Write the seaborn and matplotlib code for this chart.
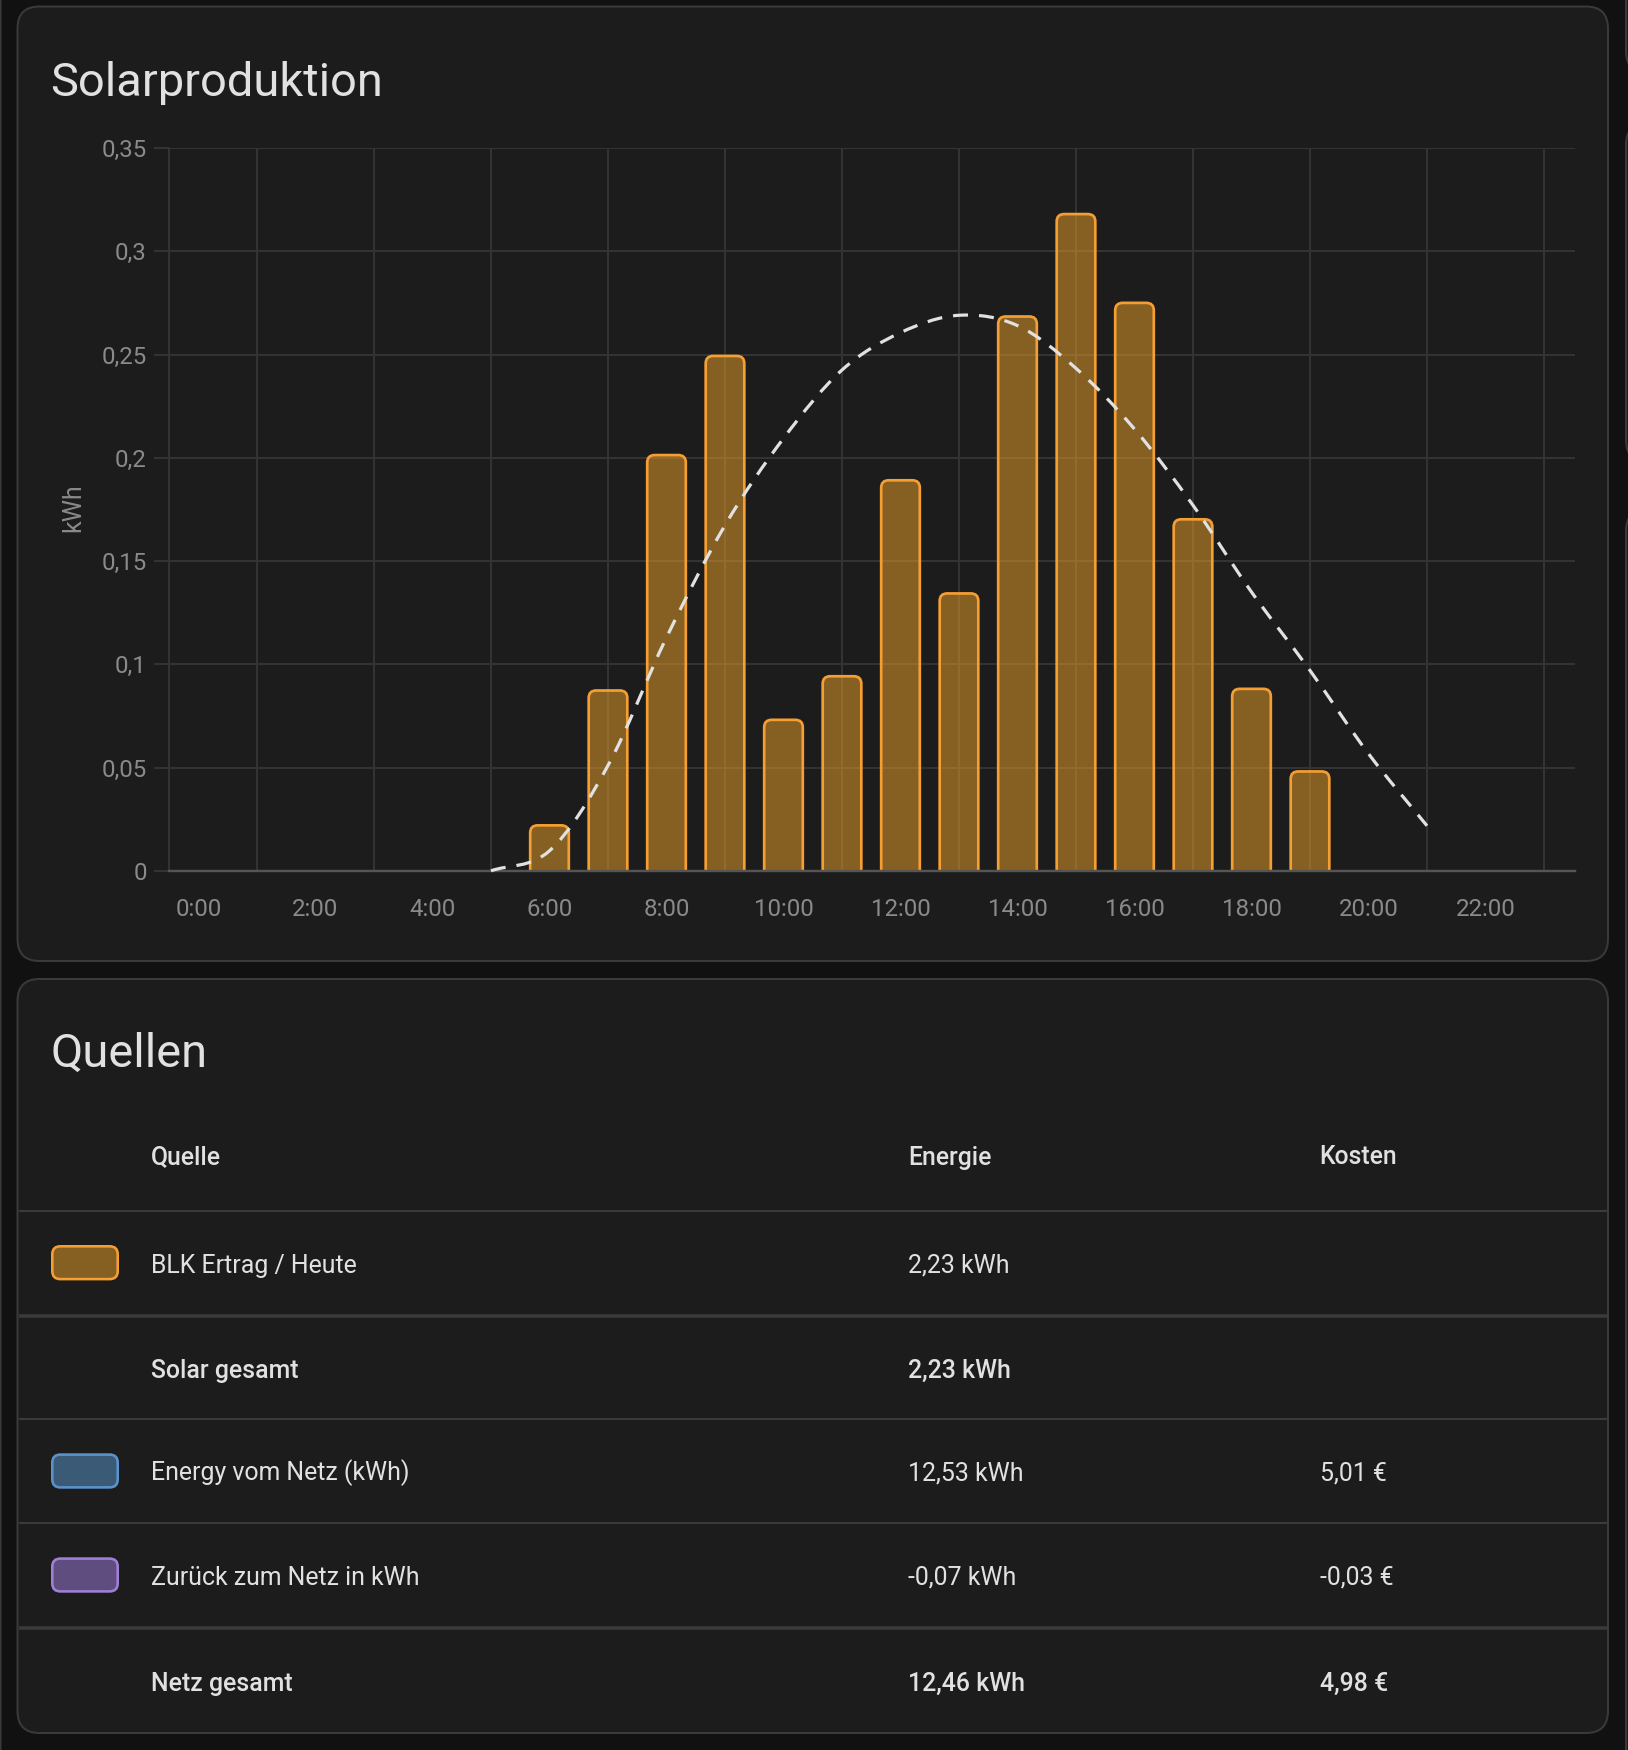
import matplotlib
matplotlib.use("Agg")
import matplotlib.pyplot as plt
from matplotlib.patches import FancyBboxPatch, PathPatch
from matplotlib.path import Path
import seaborn as sns

# chart values
hours = list(range(6, 20))
solar_kwh = [0.022, 0.0873, 0.2013, 0.2493, 0.0731, 0.0942, 0.1891, 0.1343, 0.2684, 0.318, 0.275, 0.1702, 0.0881, 0.0481]
forecast_hours = list(range(5, 22))
forecast_kwh = [0.0, 0.0097, 0.051, 0.113, 0.1673, 0.2094, 0.2425, 0.2606, 0.269, 0.264, 0.2433, 0.2139, 0.177, 0.135, 0.097, 0.0567, 0.0218]
x_tick_hours = list(range(0, 23, 2))
x_tick_labels = [f"{h}:00" for h in x_tick_hours]
grid_hours = list(range(1, 24, 2))
y_ticks = [0, 0.05, 0.1, 0.15, 0.2, 0.25, 0.3, 0.35]
y_tick_labels = ["0", "0,05", "0,1", "0,15", "0,2", "0,25", "0,3", "0,35"]

# table values
table_head = ["Quelle", "Energie", "Kosten"]
row_names = ["BLK Ertrag / Heute", "Solar gesamt", "Energy vom Netz (kWh)", "Zurück zum Netz in kWh", "Netz gesamt"]
row_energy = ["2,23 kWh", "2,23 kWh", "12,53 kWh", "-0,07 kWh", "12,46 kWh"]
row_cost = ["", "", "5,01 €", "-0,03 €", "4,98 €"]
row_bold = [False, True, False, False, True]
row_base = [1272.8, 1378, 1480.5, 1584.6, 1690.5]
swatch_fill = ["#866023", None, "#3b5a75", "#5f4d7f", None]
swatch_edge = ["#f59e33", None, "#5a93cc", "#9e80d6", None]
swatch_top = [1246.3, None, 1454.6, 1558.6, None]

PAGE = "#111111"
CARD = "#1c1c1c"
BORDER = "#3a3a3a"
GRID = "#353535"
TEXT = "#e1e1e1"
MUTED = "#8a8a8a"
W, H = 1628, 1750
PX = 72 / 100  # pixels to points at dpi 100

sns.set_theme(style="dark")
plt.rcParams["font.family"] = ["Roboto", "DejaVu Sans"]
plt.rcParams["lines.scale_dashes"] = False

fig = plt.figure(figsize=(W / 100, H / 100), dpi=100, facecolor=PAGE)

# background layer in pixel coordinates, cards and table live here
bg = fig.add_axes([0, 0, 1, 1], zorder=0)
bg.set_xlim(0, W)
bg.set_ylim(H, 0)
bg.axis("off")


def card(x0, y0, x1, y1, r=22):
    bg.add_patch(FancyBboxPatch((x0, y0), x1 - x0, y1 - y0, boxstyle=f"round,pad=0,rounding_size={r}",
                                fc=CARD, ec=BORDER, lw=2 * PX))


card(17.5, 6.5, 1608, 961)
card(17.5, 979, 1608, 1733)
# neighbouring cards peeking in at the page edges
card(-60, -60, 0.5, 1800, r=4)
card(1626, -60, 1700, 73)
card(1626, 123, 1700, 462)
card(1626, 509, 1700, 1800)

bg.text(50.5, 96, "Solarproduktion", fontsize=47 * PX, color=TEXT, va="baseline")
bg.text(50.5, 1067, "Quellen", fontsize=47 * PX, color=TEXT, va="baseline")
bg.text(73, 508, "kWh", fontsize=25 * PX, color=MUTED, rotation=90, va="center", ha="center")

# table
col_x = [151, 908.5, 1319.5]
for x, label in zip(col_x, table_head):
    bg.text(x, 1164.5, label, fontsize=24.7 * PX, color=TEXT, weight="medium", va="baseline")

for y, lw in [(1211, 2), (1316, 3.5), (1419, 2), (1523, 2), (1628, 3.5)]:
    bg.plot([18.5, 1607], [y, y], color=BORDER, lw=lw * PX, solid_capstyle="butt")

for i, name in enumerate(row_names):
    weight = "medium" if row_bold[i] else "regular"
    bg.text(col_x[0], row_base[i], name, fontsize=24.9 * PX, color=TEXT, weight=weight, va="baseline")
    bg.text(col_x[1], row_base[i], row_energy[i], fontsize=24.9 * PX, color=TEXT, weight=weight, va="baseline")
    bg.text(col_x[2], row_base[i], row_cost[i], fontsize=24.9 * PX, color=TEXT, weight=weight, va="baseline")
    if swatch_top[i] is not None:
        bg.add_patch(FancyBboxPatch((52.3, swatch_top[i]), 65.4, 32.8, boxstyle="round,pad=0,rounding_size=8",
                                    fc=swatch_fill[i], ec=swatch_edge[i], lw=2.6 * PX))

# main chart, right edge runs a little past the last hour slot like the original
left, right, top, bottom = 169.25, 1575, 148, 870.8
x_max = 23.53
ax = fig.add_axes([left / W, 1 - bottom / H, (right - left) / W, (bottom - top) / H], zorder=1)
ax.patch.set_alpha(0)

sns.barplot(x=hours, y=solar_kwh, native_scale=True, width=0.66, color="#f0a42a", ax=ax)

x_px = (right - left) / (x_max + 0.5)
y_px = (bottom - top) / 0.35
for bar in list(ax.patches):
    x, w, h = bar.get_x(), bar.get_width(), bar.get_height()
    bar.remove()
    # rounded top, the bottom corners run below the axis and get clipped
    ax.add_patch(FancyBboxPatch((x, -0.01), w, h + 0.01, boxstyle=f"round,pad=0,rounding_size={7.5 / x_px}",
                                mutation_aspect=x_px / y_px, fc=(0.941, 0.643, 0.165, 0.5),
                                ec="#f59e33", lw=2.7 * PX, zorder=2))

sns.lineplot(x=forecast_hours, y=forecast_kwh, color="#e1e1e1", linewidth=3.2 * PX, ax=ax, zorder=3)
line = ax.get_lines()[-1]
xs, ys = line.get_xdata(), line.get_ydata()
line.remove()

# same points, drawn as a smooth bezier like the original chart does
verts = [(xs[0], ys[0])]
codes = [Path.MOVETO]
for i in range(len(xs) - 1):
    slope0 = (ys[i + 1] - ys[max(i - 1, 0)]) / (xs[i + 1] - xs[max(i - 1, 0)])
    j = min(i + 2, len(xs) - 1)
    slope1 = (ys[j] - ys[i]) / (xs[j] - xs[i])
    dx = (xs[i + 1] - xs[i]) / 3
    verts += [(xs[i] + dx, ys[i] + slope0 * dx), (xs[i + 1] - dx, ys[i + 1] - slope1 * dx), (xs[i + 1], ys[i + 1])]
    codes += [Path.CURVE4, Path.CURVE4, Path.CURVE4]
ax.add_patch(PathPatch(Path(verts, codes), fill=False, ec="#e1e1e1", lw=3.2 * PX, capstyle="butt",
                       ls=(0, (15 * PX, 11 * PX)), clip_on=False, zorder=3))

ax.set_xlim(-0.5, x_max)
ax.set_ylim(0, 0.35)
ax.set_xlabel("")
ax.set_ylabel("")
ax.set_xticks(x_tick_hours, x_tick_labels)
ax.set_xticks(grid_hours, minor=True)
ax.set_yticks(y_ticks, y_tick_labels)
ax.set_axisbelow(True)
ax.grid(False)
ax.grid(True, which="minor", axis="x", color=GRID, lw=1.9 * PX)
ax.grid(True, which="major", axis="y", color=GRID, lw=1.9 * PX)
ax.tick_params(axis="x", which="major", length=0, pad=27.5 * PX, labelsize=24 * PX, labelcolor=MUTED)
ax.tick_params(axis="x", which="minor", length=17 * PX, width=1.9 * PX, color=GRID)
ax.tick_params(axis="y", which="major", left=True, length=15.5 * PX, width=1.9 * PX, color=GRID, pad=7 * PX,
               labelsize=24 * PX, labelcolor=MUTED)
sns.despine(ax=ax, top=True, right=True)
ax.spines["left"].set_color(GRID)
ax.spines["left"].set_linewidth(1.9 * PX)
ax.spines["bottom"].set_color("#555555")
ax.spines["bottom"].set_linewidth(2.4 * PX)

fig.savefig("out.png", dpi=100, facecolor=PAGE)
